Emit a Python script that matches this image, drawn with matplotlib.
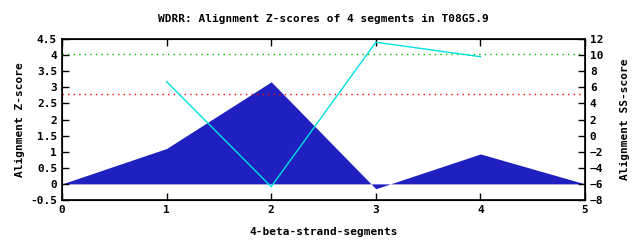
import matplotlib
matplotlib.use("Agg")
import matplotlib.pyplot as plt

segments = [0, 1, 2, 3, 4, 5]
z_scores = [0.0, 1.1, 3.17, -0.15, 0.93, 0.0]
ss_x = [1, 2, 3, 4]
ss_scores = [6.7, -6.35, 11.6, 9.8]
green_level = 4.03
red_level = 2.78

title = "WDRR: Alignment Z-scores of 4 segments in T08G5.9"
font = dict(family="DejaVu Sans Mono", weight="bold", size=8)

fig = plt.figure(figsize=(6.4, 2.4), dpi=100)
ax = fig.add_axes([62/640, 40/240, 523/640, 161/240])
ax.fill_between(segments, z_scores, 0, color="#2020c0", linewidth=0)
ax.axhline(green_level, color="#00c000", linestyle=(0, (1, 3)), linewidth=1)
ax.axhline(red_level, color="#ff0000", linestyle=(0, (1, 3)), linewidth=1)
ax.set_xlim(0, 5)
ax.set_ylim(-0.5, 4.5)
ax.set_xticks(segments)
ax.set_yticks([-0.5, 0, 0.5, 1, 1.5, 2, 2.5, 3, 3.5, 4, 4.5])
ax.set_yticklabels(["-0.5", "0", "0.5", "1", "1.5", "2", "2.5", "3", "3.5", "4", "4.5"])
ax.tick_params(direction="in", length=5, width=1, top=True, labelsize=8)
for lab in ax.get_xticklabels() + ax.get_yticklabels():
    lab.set_fontfamily("DejaVu Sans Mono")
    lab.set_fontweight("bold")
ax.set_xlabel("4-beta-strand-segments", labelpad=9, **font)
ax.set_ylabel("Alignment Z-score", labelpad=4, **font)
ax.set_title(title, pad=12, **font)
for s in ax.spines.values():
    s.set_linewidth(1.2)

ax2 = ax.twinx()
ax2.plot(ss_x, ss_scores, color="#00e0e0", linewidth=1)
ax2.set_ylim(-8, 12)
ax2.set_yticks(range(-8, 13, 2))
ax2.tick_params(direction="in", length=5, width=1, labelsize=8)
for lab in ax2.get_yticklabels():
    lab.set_fontfamily("DejaVu Sans Mono")
    lab.set_fontweight("bold")
ax2.set_ylabel("Alignment SS-score", labelpad=12, **font)

fig.savefig("out.png", dpi=100)
